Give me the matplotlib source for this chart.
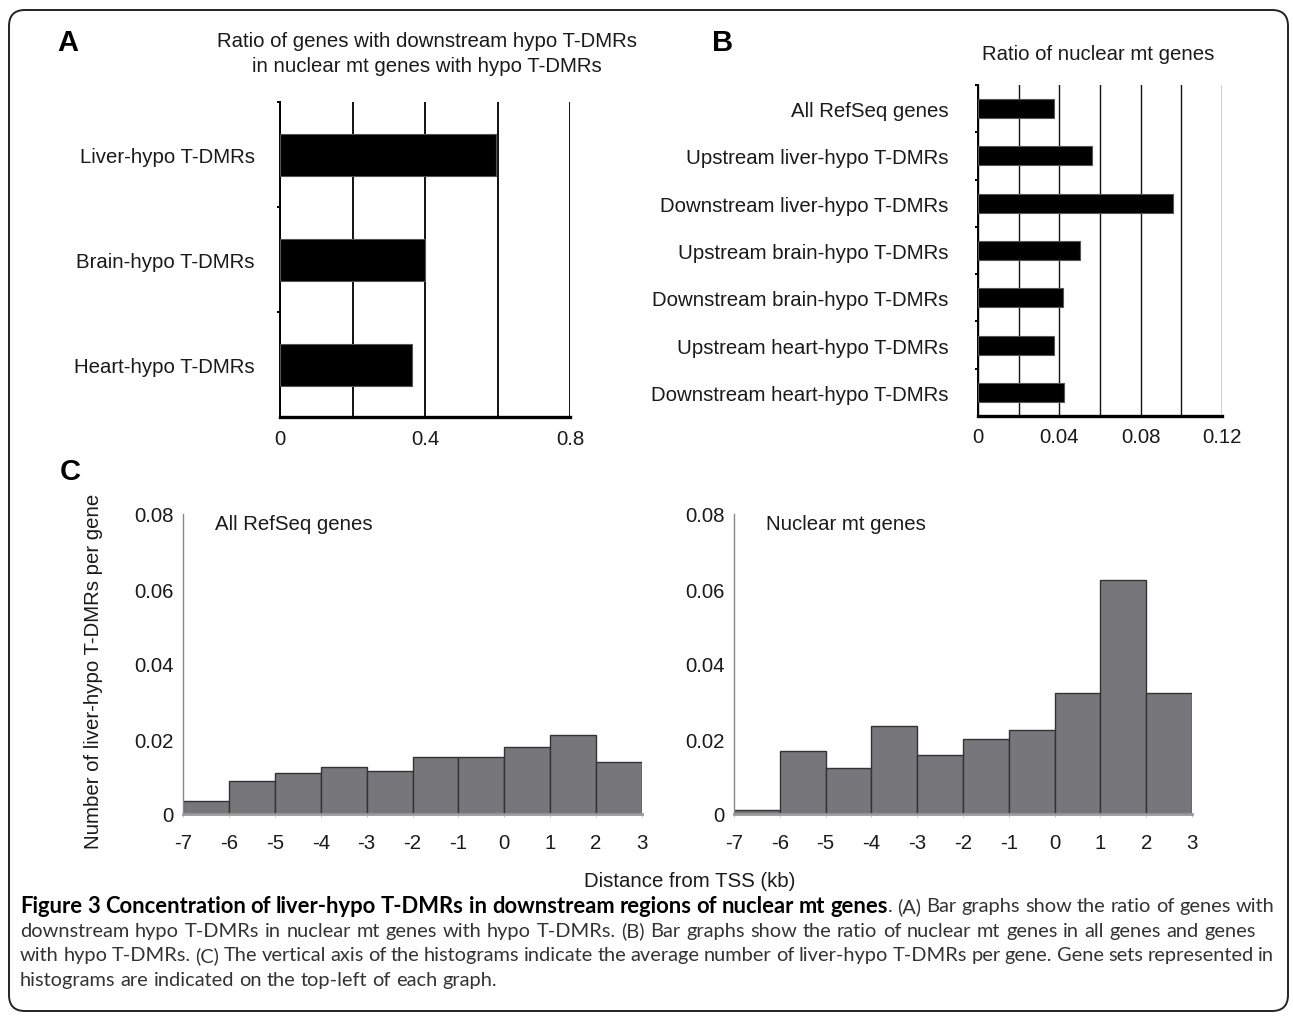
import matplotlib
matplotlib.use("Agg")
import matplotlib.pyplot as plt
from matplotlib.patches import FancyBboxPatch

plt.rcParams['font.family'] = ['Liberation Sans', 'DejaVu Sans']
plt.rcParams['axes.unicode_minus'] = False

# Panel A data
a_labels = ['Liver-hypo T-DMRs', 'Brain-hypo T-DMRs', 'Heart-hypo T-DMRs']
a_values = [0.595, 0.40, 0.365]

# Panel B data
b_labels = ['All RefSeq genes', 'Upstream liver-hypo T-DMRs', 'Downstream liver-hypo T-DMRs',
            'Upstream brain-hypo T-DMRs', 'Downstream brain-hypo T-DMRs',
            'Upstream heart-hypo T-DMRs', 'Downstream heart-hypo T-DMRs']
b_values = [0.0373, 0.0561, 0.0957, 0.0500, 0.0416, 0.0376, 0.0424]

# Panel C data (1 kb bins from -7 to 3 kb)
bin_edges = [-7, -6, -5, -4, -3, -2, -1, 0, 1, 2, 3]
all_refseq = [0.0034, 0.0088, 0.0110, 0.0125, 0.0116, 0.0151, 0.0151, 0.0178, 0.0212, 0.0140]
nuclear_mt = [0.0012, 0.0168, 0.0124, 0.0235, 0.0157, 0.0200, 0.0223, 0.0324, 0.0624, 0.0324]

# caption, line by line as in the figure; the first line starts with a bold lead-in
caption_bold = 'Figure 3 Concentration of liver-hypo T-DMRs in downstream regions of nuclear mt genes'
caption_lines = [
    '. (A) Bar graphs show the ratio of genes with',
    'downstream hypo T-DMRs in nuclear mt genes with hypo T-DMRs. (B) Bar graphs show the ratio of nuclear mt genes in all genes and genes',
    'with hypo T-DMRs. (C) The vertical axis of the histograms indicate the average number of liver-hypo T-DMRs per gene. Gene sets represented in',
    'histograms are indicated on the top-left of each graph.',
]

W, H = 1293, 1020
fig = plt.figure(figsize=(W / 100, H / 100), dpi=100)
FS = 14.7


def px_axes(x0, y0, x1, y1):
    return fig.add_axes([x0 / W, 1 - y1 / H, (x1 - x0) / W, (y1 - y0) / H])


# background axes in pixel coordinates for free text and frame
bg = fig.add_axes([0, 0, 1, 1], zorder=-1)
bg.set_xlim(0, W)
bg.set_ylim(H, 0)
bg.axis('off')
bg.add_patch(FancyBboxPatch((9, 11), 1279, 1001, boxstyle='round,pad=0,rounding_size=16',
                            fill=False, lw=1.4, ec='#222222'))


def bar_panel(ax, labels, values, xmax, major, minor, grid_lw, label_pad, tick_pad):
    ax.barh(range(len(values)), values, height=0.4, color='black', edgecolor='#555555',
            linewidth=0.8, zorder=3)
    ax.set_xlim(0, xmax)
    ax.set_ylim(len(values) - 0.5, -0.5)
    ax.set_xticks(major)
    ax.set_xticklabels([('%g' % v) for v in major])
    ax.set_xticks(minor, minor=True)
    ax.grid(axis='x', which='both', color='#111111', lw=grid_lw, zorder=1)
    ax.set_yticks(range(len(labels)))
    ax.set_yticklabels(labels)
    ax.set_yticks([i - 0.5 for i in range(len(labels))], minor=True)
    ax.tick_params(axis='y', which='major', length=0, pad=label_pad, labelsize=FS, labelcolor='#1a1a1a')
    ax.tick_params(axis='y', which='minor', length=2, width=1.4, direction='out')
    ax.tick_params(axis='x', which='both', length=0, pad=tick_pad, labelsize=FS, labelcolor='#1a1a1a')
    for s in ['top', 'right']:
        ax.spines[s].set_visible(False)
    ax.spines['left'].set_linewidth(1.4)
    ax.spines['bottom'].set_linewidth(2.4)


axA = px_axes(280, 103, 570, 418)
bar_panel(axA, a_labels, a_values, 0.8, [0, 0.4, 0.8], [0.2, 0.6], 1.4, 18, 8.5)

axB = px_axes(978, 86, 1222, 417)
bar_panel(axB, b_labels, b_values, 0.12, [0, 0.04, 0.08, 0.12], [0.02, 0.06, 0.10], 1.0, 21, 8)


def hist_panel(ax, values, name):
    ax.bar(bin_edges[:-1], values, width=1, align='edge', color='#77767b',
           edgecolor='#333333', linewidth=1.0, zorder=2)
    ax.set_xlim(-7, 3)
    ax.set_ylim(0, 0.08)
    ax.set_xticks(bin_edges)
    ax.set_xticklabels([str(v) for v in bin_edges])
    ax.set_yticks([0, 0.02, 0.04, 0.06, 0.08])
    ax.set_yticklabels(['0', '0.02', '0.04', '0.06', '0.08'])
    ax.tick_params(axis='y', length=0, pad=6.5, labelsize=FS, labelcolor='#1a1a1a')
    ax.tick_params(axis='x', length=2, color='#cccccc', pad=12, labelsize=FS, labelcolor='#1a1a1a')
    for s in ['top', 'right']:
        ax.spines[s].set_visible(False)
    ax.spines['left'].set_color('#888888')
    ax.spines['left'].set_linewidth(1.0)
    ax.spines['bottom'].set_color('#999999')
    ax.spines['bottom'].set_linewidth(2.0)
    ax.text(0.07, 0.97, name, transform=ax.transAxes, ha='left', va='center',
            fontsize=FS, color='#1a1a1a')


axC1 = px_axes(183, 515, 642, 815)
hist_panel(axC1, all_refseq, 'All RefSeq genes')
axC2 = px_axes(734, 515, 1192, 815)
hist_panel(axC2, nuclear_mt, 'Nuclear mt genes')

# panel letters and titles
for letter, x, y in [('A', 57, 43), ('B', 712, 43), ('C', 60, 472)]:
    bg.text(x, y, letter, fontsize=21, fontweight='bold', ha='left', va='center')

bg.text(427, 54, 'Ratio of genes with downstream hypo T-DMRs\nin nuclear mt genes with hypo T-DMRs',
        ha='center', va='center', fontsize=FS, linespacing=1.37, color='#1a1a1a')
bg.text(1098, 55, 'Ratio of nuclear mt genes', ha='center', va='center', fontsize=FS, color='#1a1a1a')
bg.text(94, 671, 'Number of liver-hypo T-DMRs per gene', rotation=90, ha='center', va='center',
        fontsize=FS, color='#1a1a1a')
bg.text(690, 882, 'Distance from TSS (kb)', ha='center', va='center', fontsize=FS, color='#1a1a1a')

# caption: justified lines
cap_font = ['Lato', 'DejaVu Sans']
renderer = fig.canvas.get_renderer()


def cap_style(bold):
    if bold:
        return dict(family=cap_font, fontsize=15.8, fontweight='bold', color='black')
    return dict(family=cap_font, fontsize=14.4, color='#333333')


def width_of(s, bold):
    t = bg.text(0, 0, s, **cap_style(bold))
    w = t.get_window_extent(renderer).width
    t.remove()
    return w


# each line is a list of words, each word a list of (piece, bold)
rest0 = caption_lines[0].split(' ')
line1 = [[(w, True)] for w in caption_bold.split(' ')]
line1[-1].append((rest0[0], False))
line1 += [[(w, False)] for w in rest0[1:]]
cap_words = [line1] + [[[(w, False)] for w in ln.split(' ')] for ln in caption_lines[1:]]

space = width_of('a a', False) - 2 * width_of('a', False)
line_ends = [1274, 1256, 1274, None]
x_left = 20
for i, line in enumerate(cap_words):
    y = 907 + 24.5 * i
    widths = [sum(width_of(p, b) for p, b in wd) for wd in line]
    if line_ends[i] is not None:
        gap = (line_ends[i] - x_left - sum(widths)) / (len(line) - 1)
        gap = max(gap, 0.6 * space)
    else:
        gap = space
    x = x_left
    for wd, w in zip(line, widths):
        px = x
        for p, b in wd:
            bg.text(px, y, p, ha='left', va='center', **cap_style(b))
            px += width_of(p, b)
        x += w + gap

fig.savefig('out.png', dpi=100)
